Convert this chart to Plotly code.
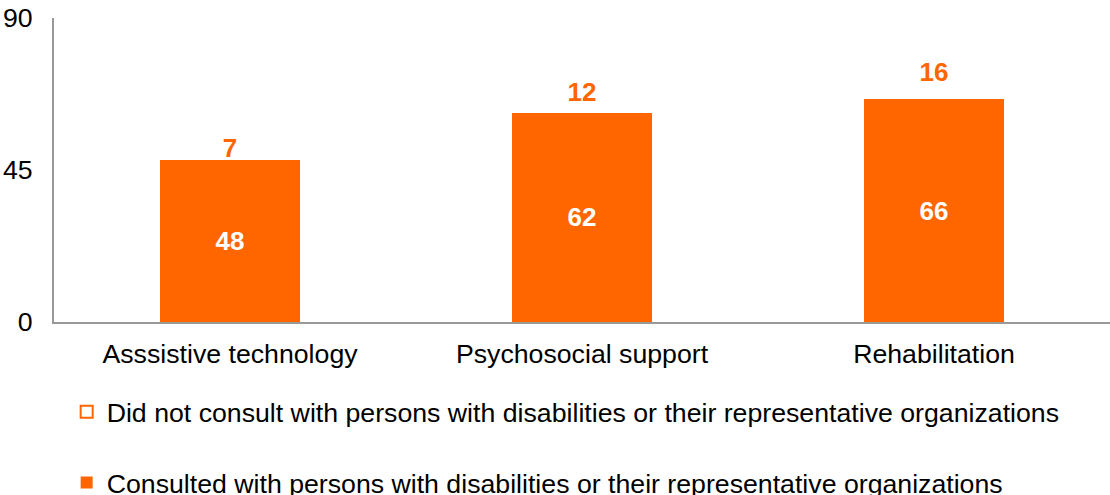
import plotly.graph_objects as go

categories = ["Asssistive technology", "Psychosocial support", "Rehabilitation"]
consulted = [48, 62, 66]
not_consulted = [7, 12, 16]
name_consulted = "Consulted with persons with disabilities or their representative organizations"
name_not = "Did not consult with persons with disabilities or their representative organizations"
y_ticks = [0, 45, 90]

ORANGE = "#FF6600"
FONT = "Liberation Sans, Arial, sans-serif"
FS = 26.7

fig = go.Figure()
fig.add_trace(go.Bar(
    x=categories, y=consulted, name=name_consulted,
    marker=dict(color=ORANGE, line=dict(width=0)),
    text=consulted, textposition="inside", insidetextanchor="middle",
    textangle=0, constraintext="none",
    textfont=dict(color="white", size=26, family=FONT, weight="bold"),
    legendgroup="b", legendrank=2, showlegend=True, width=0.4,
))
fig.add_trace(go.Bar(
    x=categories, y=not_consulted, name=name_not,
    marker=dict(color="rgba(255,255,255,0)", line=dict(width=0)),
    text=not_consulted, textposition="inside", insidetextanchor="middle",
    textangle=0, constraintext="none", cliponaxis=False,
    textfont=dict(color=ORANGE, size=26, family=FONT, weight="bold"),
    legendgroup="a", showlegend=False, width=0.4, hoverinfo="skip",
))
# legend entry for the top (unfilled) series
fig.add_trace(go.Bar(
    x=categories, y=[None] * len(categories), name=name_not,
    marker=dict(color="white", line=dict(color=ORANGE, width=2)),
    legendgroup="a", legendrank=1, showlegend=True, width=0.4,
))

fig.update_layout(
    barmode="stack",
    width=1110, height=495,
    margin=dict(l=54, r=0, t=18, b=173, autoexpand=False),
    paper_bgcolor="white", plot_bgcolor="white",
    font=dict(family=FONT, size=FS, color="black"),
    legend=dict(
        orientation="v", x=0.012, xanchor="left", y=-0.217, yanchor="top",
        traceorder="grouped", tracegroupgap=33,
        font=dict(size=FS, family=FONT, color="black"),
        itemclick=False,
    ),
    xaxis=dict(
        showline=True, linecolor="#999999", linewidth=2,
        ticks="", tickfont=dict(size=FS), showgrid=False,
        ticklabelstandoff=7,
    ),
    yaxis=dict(
        range=[0, 90], tickvals=y_ticks, showline=True, linecolor="#999999",
        linewidth=2, showgrid=False, zeroline=False, ticks="",
        tickfont=dict(size=FS), ticklabelstandoff=14,
        ticklabeloverflow="allow",
    ),
)

fig.write_html("out.html", config={"displayModeBar": False},
               post_script="document.body.style.margin='0px';")
